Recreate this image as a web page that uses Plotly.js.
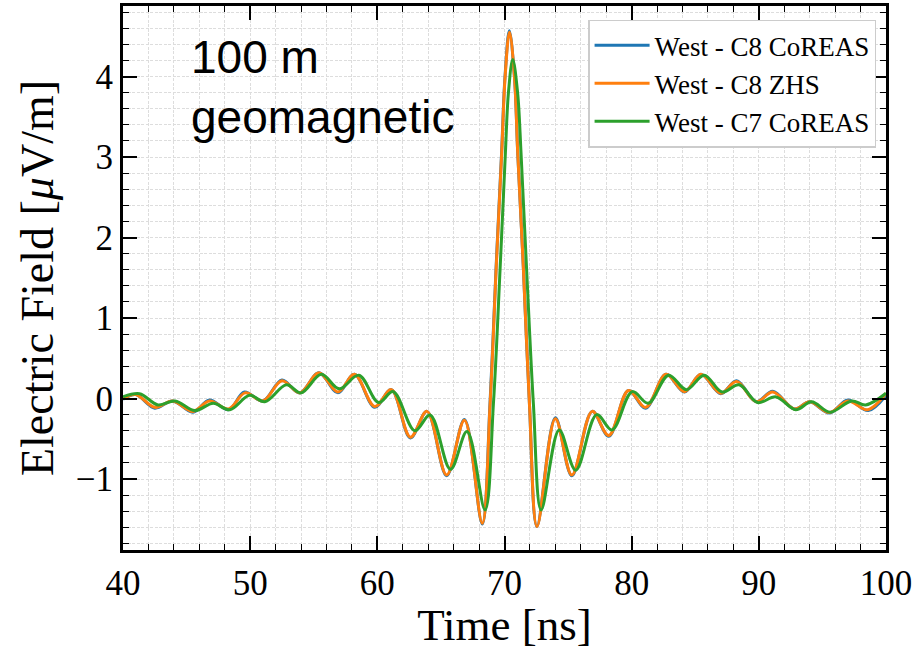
<!DOCTYPE html>
<html>
<head>
<meta charset="utf-8">
<script src="https://cdn.plot.ly/plotly-3.0.1.min.js"></script>
<style>
  html, body { margin: 0; padding: 0; background: #ffffff; }
  #chart { width: 912px; height: 650px; }
</style>
</head>
<body>
<div id="chart"></div>
<script>
// Electric field pulse at 100 m, geomagnetic component (West arm).
// Samples are turning points and flank points of each trace, in ns and µV/m.

const timeC8CoREAS = [40.0, 41.0, 42.5, 43.9, 45.5, 46.8, 48.3, 49.55, 51.0, 52.5, 53.9, 55.4, 56.9, 58.2,
  59.8, 61.1, 62.6, 63.9, 65.45, 66.85, 68.25, 68.86, 69.33, 69.77, 70.04, 70.38, 70.78, 71.04, 71.49,
  71.96, 72.55, 74.0, 75.3, 76.9, 78.2, 79.75, 81.1, 82.7, 84.15, 85.45, 87.0, 88.25, 89.8, 91.1,
  92.8, 94.0, 95.55, 97.0, 98.6, 100.0];
const fieldC8CoREAS = [-0.01, 0.05, -0.12, -0.03, -0.17, -0.02, -0.14, 0.08, -0.03, 0.23, 0.07, 0.32, 0.07, 0.30,
  -0.11, 0.11, -0.49, -0.16, -0.96, -0.26, -1.56, -0.06, 1.6, 3.05, 4.0, 4.57, 4.0, 3.05, 1.6,
  -0.06, -1.59, -0.24, -0.96, -0.16, -0.47, 0.10, -0.12, 0.30, 0.08, 0.30, 0.06, 0.22, -0.04, 0.09,
  -0.13, -0.04, -0.18, -0.02, -0.15, 0.04];

const timeC8ZHS = [40.0, 41.0, 42.5, 43.9, 45.5, 46.8, 48.3, 49.6, 51.0, 52.5, 53.9, 55.4, 56.9, 58.2,
  59.8, 61.1, 62.6, 63.9, 65.45, 66.85, 68.25, 68.87, 69.34, 69.78, 70.05, 70.39, 70.78, 71.04, 71.49,
  71.96, 72.56, 74.0, 75.3, 76.9, 78.2, 79.75, 81.1, 82.7, 84.15, 85.45, 87.0, 88.25, 89.8, 91.1,
  92.8, 94.0, 95.55, 97.0, 98.55, 100.0];
const fieldC8ZHS = [0.0, 0.05, -0.11, -0.03, -0.16, -0.03, -0.13, 0.07, -0.03, 0.22, 0.07, 0.32, 0.08, 0.30,
  -0.10, 0.11, -0.48, -0.16, -0.95, -0.27, -1.55, -0.06, 1.6, 3.05, 4.0, 4.55, 4.0, 3.05, 1.6,
  -0.06, -1.59, -0.25, -0.95, -0.16, -0.46, 0.10, -0.11, 0.30, 0.085, 0.30, 0.065, 0.21, -0.04, 0.08,
  -0.13, -0.04, -0.175, -0.03, -0.14, 0.065];

const timeC7CoREAS = [40.0, 41.3, 42.75, 44.1, 45.65, 47.1, 48.4, 49.95, 51.15, 52.85, 54.0, 55.6, 57.0, 58.55,
  60.1, 61.25, 62.95, 64.15, 65.75, 67.05, 68.47, 69.13, 69.65, 70.07, 70.31, 70.65, 71.03, 71.3, 71.74,
  72.27, 72.88, 74.3, 75.6, 77.25, 78.45, 80.05, 81.3, 82.9, 84.3, 85.7, 87.1, 88.45, 89.9, 91.35,
  92.9, 94.15, 95.6, 97.3, 98.4, 100.0];
const fieldC7CoREAS = [0.02, 0.06, -0.08, -0.03, -0.15, -0.06, -0.14, 0.04, -0.04, 0.17, 0.07, 0.30, 0.12, 0.29,
  -0.05, 0.085, -0.40, -0.205, -0.88, -0.41, -1.385, -0.06, 1.6, 3.05, 3.8, 4.21, 3.8, 3.05, 1.6,
  -0.06, -1.385, -0.39, -0.89, -0.20, -0.39, 0.085, -0.06, 0.29, 0.11, 0.29, 0.08, 0.17, -0.05, 0.02,
  -0.14, -0.04, -0.17, -0.03, -0.08, 0.065];

const seriesNames = ['West - C8 CoREAS', 'West - C8 ZHS', 'West - C7 CoREAS'];
const seriesColors = ['#1f77b4', '#ff7f0e', '#2ca02c'];
const xTickValues = [40, 50, 60, 70, 80, 90, 100];
const yTickValues = [-1, 0, 1, 2, 3, 4];

const serif = 'Liberation Serif, Times New Roman, serif';
const sans = 'Liberation Sans, Arial, sans-serif';

function trace(x, y, i) {
  return {
    type: 'scatter', mode: 'lines', x: x, y: y, name: seriesNames[i],
    line: { color: seriesColors[i], width: 3, shape: 'spline', smoothing: 1 }
  };
}

const data = [
  trace(timeC8CoREAS, fieldC8CoREAS, 0),
  trace(timeC8ZHS, fieldC8ZHS, 1),
  trace(timeC7CoREAS, fieldC7CoREAS, 2)
];

const gridColor = '#dddddd';
const gridDash = '3px,1.5px';

function axisCommon() {
  return {
    showline: true, linecolor: '#000', linewidth: 3, mirror: 'allticks',
    ticks: 'inside', ticklen: 14, tickwidth: 1.5, tickcolor: '#000',
    showgrid: true, gridcolor: gridColor, griddash: gridDash, gridwidth: 1,
    zeroline: false, ticklabeloverflow: 'allow',
    tickfont: { family: serif, size: 35, color: '#000' }
  };
}

function minorTicks(step) {
  return { dtick: step, tick0: 0, ticklen: 6, tickwidth: 1.2, tickcolor: '#000', ticks: 'inside',
           showgrid: true, gridcolor: gridColor, griddash: gridDash, gridwidth: 1 };
}

const layout = {
  width: 912, height: 650,
  margin: { l: 123, r: 26, t: 6, b: 100 },
  paper_bgcolor: '#fff', plot_bgcolor: '#fff',
  showlegend: true,
  xaxis: Object.assign(axisCommon(), {
    range: [40, 100], tickvals: xTickValues,
    minor: minorTicks(2),
    title: { text: 'Time [ns]', font: { family: serif, size: 45, color: '#000' }, standoff: 6 }
  }),
  yaxis: Object.assign(axisCommon(), {
    range: [-1.882, 4.876], tickvals: yTickValues,
    minor: minorTicks(0.2),
    title: { text: 'Electric Field [<i>μ</i>V/m]', font: { family: serif, size: 46, color: '#000' }, standoff: 8 }
  }),
  legend: {
    x: 0.987, y: 0.975, xanchor: 'right', yanchor: 'top',
    bgcolor: '#fff', bordercolor: '#cccccc', borderwidth: 1.5,
    itemwidth: 55,
    font: { family: serif, size: 27, color: '#000' }
  },
  annotations: [{
    xref: 'paper', yref: 'paper', x: 0.086, y: 0.958, xanchor: 'left', yanchor: 'top',
    text: '100 m<br>geomagnetic', showarrow: false, align: 'left',
    font: { family: sans, size: 46, color: '#000' }
  }]
};

Plotly.newPlot('chart', data, layout, { displayModeBar: false, responsive: false });
</script>
</body>
</html>
